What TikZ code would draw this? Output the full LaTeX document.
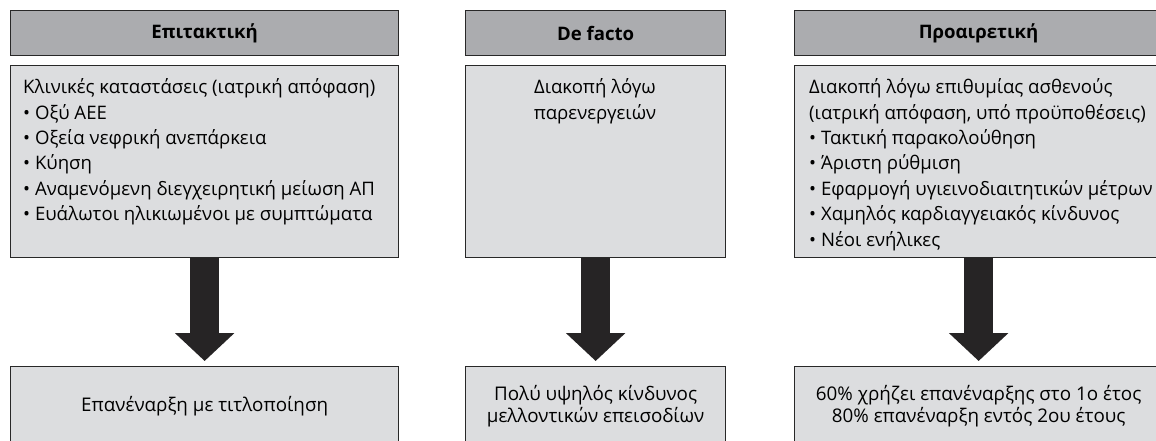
\documentclass[tikz,border=0pt]{standalone}
\usepackage{fontspec}
\setmainfont{Open Sans}
\usetikzlibrary{arrows.meta}
\definecolor{headgray}{RGB}{171,172,175}
\definecolor{boxgray}{RGB}{220,221,223}
\definecolor{edgegray}{RGB}{40,40,40}
\definecolor{arrowgray}{RGB}{38,36,37}
\def\bodyfont{\fontsize{18.6}{25.4}\selectfont}

\begin{document}
\begin{tikzpicture}[x=1pt,y=-1pt,
	headbox/.style={draw=edgegray, line width=1.3pt, fill=headgray, anchor=north west, inner sep=0pt,
		minimum height=45pt, font=\bfseries\fontsize{18.6}{20}\selectfont},
	bodybox/.style={draw=edgegray, line width=1.3pt, fill=boxgray, anchor=north west, inner sep=0pt},
	restbox/.style={bodybox, minimum height=80pt, align=center, font=\fontsize{18.8}{22}\selectfont},
	listtext/.style={anchor=north west, inner sep=0pt, align=left, font=\bodyfont},
	bigarrow/.style={draw=arrowgray, line width=29pt, shorten >=5pt,
		-{Triangle[width=58pt,length=28pt]}, arrowgray}]
	%%%%% START %%%%%
	\useasboundingbox (0,0) rectangle (1156,441);
	\clip (0,0) rectangle (1156,441);
	
	\node[headbox, minimum width=388pt] (head1) at (10,10) {Επιτακτική};
	\node[headbox, minimum width=260pt] (head2) at (465,10) {De facto};
	\node[headbox, minimum width=368pt] (head3) at (794,10) {Προαιρετική};
	
	\node[bodybox, minimum width=388pt, minimum height=192pt] (body1) at (10,65) {};
	\node[bodybox, minimum width=260pt, minimum height=192pt] (body2) at (465,65) {};
	\node[bodybox, minimum width=368pt, minimum height=192pt] (body3) at (794,65) {};
	
	\node[restbox, minimum width=388pt] (rest1) at (10,366) {Επανέναρξη με τιτλοποίηση};
	\node[restbox, minimum width=260pt] (rest2) at (465,366) {Πολύ υψηλός κίνδυνος\\μελλοντικών επεισοδίων};
	\node[restbox, minimum width=368pt] (rest3) at (794,366) {60\% χρήζει επανέναρξης στο 1ο έτος\\80\% επανέναρξη εντός 2ου έτους};
	
	\node[listtext] (list1) at (23,75.7) {\strut Κλινικές καταστάσεις (ιατρική απόφαση)\\
		\strut• Οξύ ΑΕΕ\\
		\strut• Οξεία νεφρική ανεπάρκεια\\
		\strut• Κύηση\\
		\strut• Αναμενόμενη διεγχειρητική μείωση ΑΠ\\
		\strut• Ευάλωτοι ηλικιωμένοι με συμπτώματα};
	\node[listtext, anchor=north, align=center] (list2) at (595,75.7) {\strut Διακοπή λόγω\\
		\strut παρενεργειών};
	\node[listtext] (list3) at (809,75.7) {\strut Διακοπή λόγω επιθυμίας ασθενούς\\
		\strut(ιατρική απόφαση, υπό προϋποθέσεις)\\
		\strut• Τακτική παρακολούθηση\\
		\strut• Άριστη ρύθμιση\\
		\strut• Εφαρμογή υγιεινοδιαιτητικών μέτρων\\
		\strut• Χαμηλός καρδιαγγειακός κίνδυνος\\
		\strut• Νέοι ενήλικες};
	
	\draw[bigarrow] (body1.south) -- (rest1.north);
	\draw[bigarrow] (body2.south) -- (rest2.north);
	\draw[bigarrow] (body3.south) -- (rest3.north);
	
	%%%%% END %%%%%
\end{tikzpicture}
\end{document}
